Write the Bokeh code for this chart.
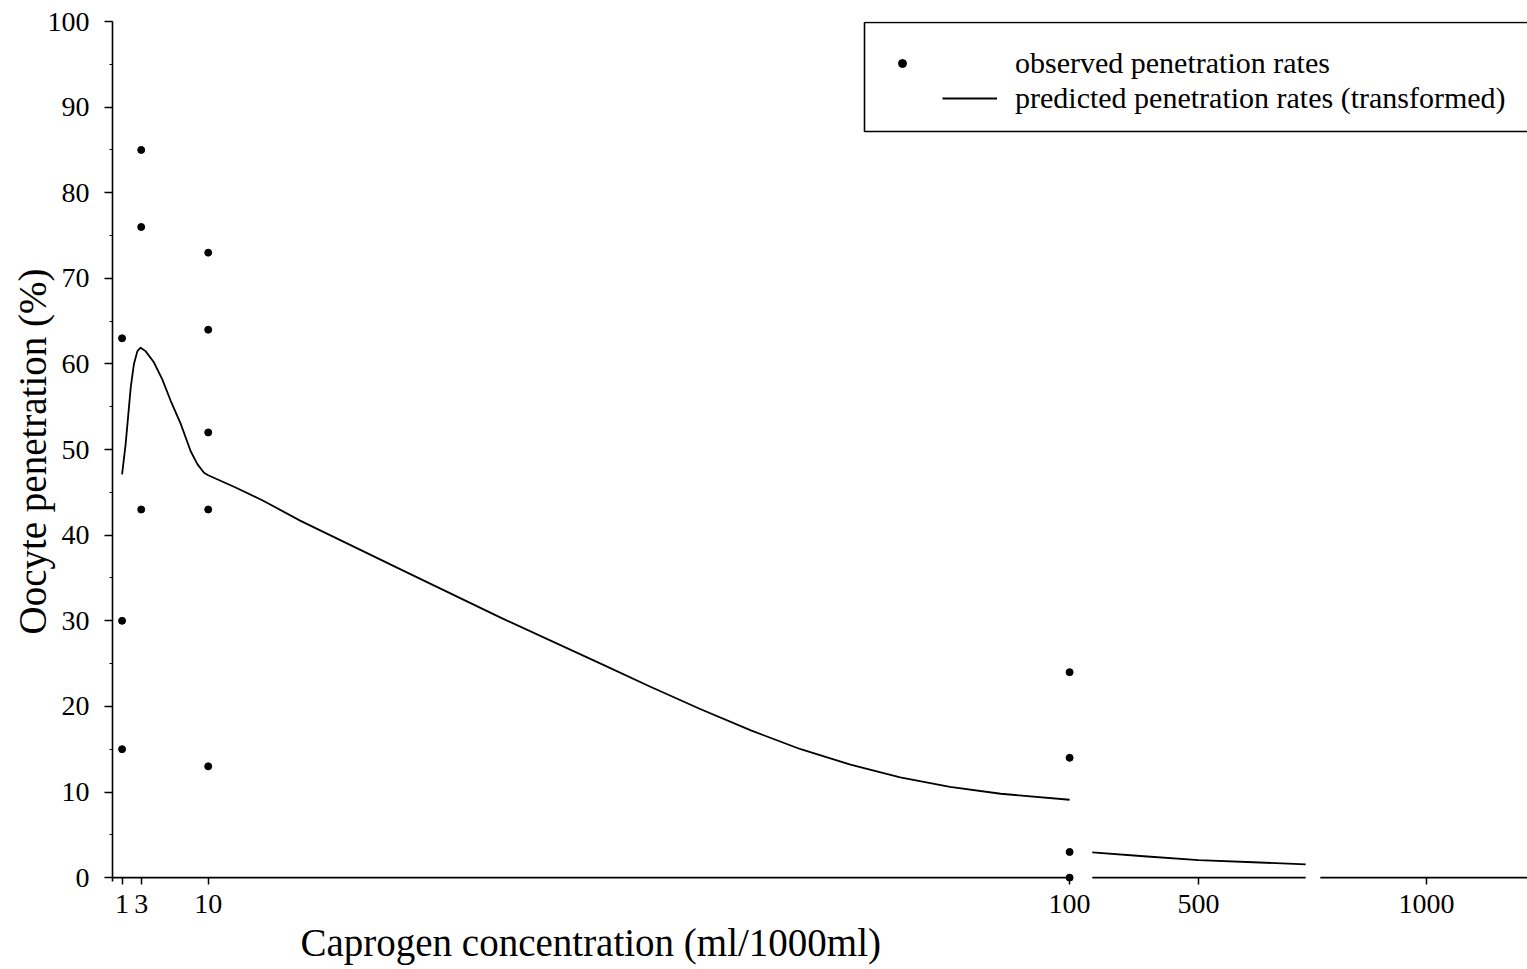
import numpy as np
from bokeh.plotting import figure
from bokeh.models import (Range1d, FixedTicker, SingleIntervalTicker, Title,
                          Legend, LegendItem, BoxAnnotation)
from bokeh.embed import file_html
from bokeh.resources import INLINE

# ---------------- data ----------------
obs_conc = [1, 1, 1, 3, 3, 3, 10, 10, 10, 10, 10, 100, 100, 100, 100]
obs_rate = [63, 30, 15, 85, 76, 43, 73, 64, 52, 43, 13, 24, 14, 3, 0]

pred_conc_low = [1.0, 1.37, 1.9, 2.24, 2.6, 2.94, 3.45, 4.32, 5.2, 6.08, 7.13,
                 8.17, 8.87, 9.56, 10.0, 12.8, 15.8, 19.6, 30.1, 40.5, 51.0,
                 56.2, 61.4, 66.7, 71.9, 77.1, 82.3, 87.5, 92.8, 100.0]
pred_rate_low = [47.1, 50.6, 57.2, 60.0, 61.5, 61.9, 61.5, 60.2, 58.2, 55.7, 53.0,
                 49.8, 48.3, 47.3, 47.0, 45.6, 44.0, 41.7, 36.0, 30.4, 25.0,
                 22.3, 19.7, 17.2, 15.0, 13.2, 11.7, 10.6, 9.8, 9.1]

pred_conc_high = [267, 380, 500, 620, 735]
pred_rate_high = [2.95, 2.5, 2.05, 1.8, 1.55]

tick_conc = [1, 3, 10, 100, 500, 1000]
tick_labels = ["1", "3", "10", "100", "500", "1000"]

# broken axis: visible baseline pieces (in concentration units)
axis_pieces = [(0, 100), (267, 735), (767, 1230)]

# ---------------- broken-scale mapping ----------------
HIGH_OFFSET = 89.65
HIGH_SLOPE = 0.04764


def axis_pos(c):
    c = np.asarray(c, dtype=float)
    return np.where(c <= 100, c, HIGH_OFFSET + HIGH_SLOPE * c)


FONT = "Liberation Serif"

p = figure(frame_width=1415, frame_height=860,
           min_border_left=112, min_border_right=0,
           min_border_top=21, min_border_bottom=86,
           x_range=Range1d(0, 147.84), y_range=Range1d(-0.45, 100),
           output_backend="svg", toolbar_location=None)
p.outline_line_color = None
p.grid.visible = False
p.background_fill_color = "white"
p.border_fill_color = "white"

# y axis
ya = p.yaxis[0]
ya.ticker = SingleIntervalTicker(interval=10, num_minor_ticks=2)
ya.major_tick_in = 0
ya.major_tick_out = 8
ya.minor_tick_in = 0
ya.minor_tick_out = 3
ya.axis_line_width = 1.6
ya.major_tick_line_width = 1.5
ya.minor_tick_line_width = 1.2
ya.axis_line_color = "black"
ya.major_tick_line_color = "black"
ya.minor_tick_line_color = "black"
ya.major_label_text_font = FONT
ya.major_label_text_font_size = "28px"
ya.major_label_text_color = "black"
ya.major_label_standoff = 15
ya.axis_label = "Oocyte penetration (%)"
ya.axis_label_text_font = FONT
ya.axis_label_text_font_size = "39px"
ya.axis_label_text_font_style = "normal"
ya.axis_label_text_color = "black"
ya.axis_label_standoff = -9

# x axis
xa = p.xaxis[0]
tick_pos = [round(float(v), 4) for v in axis_pos(tick_conc)]
xa.ticker = FixedTicker(ticks=tick_pos, minor_ticks=[])
xa.major_label_overrides = {pos: lab for pos, lab in zip(tick_pos, tick_labels)}
xa.axis_line_color = None
xa.major_tick_in = 4
xa.major_tick_out = 3
xa.major_tick_line_width = 1.5
xa.major_tick_line_color = "black"
xa.minor_tick_line_color = None
xa.major_label_text_font = FONT
xa.major_label_text_font_size = "28px"
xa.major_label_text_color = "black"
xa.major_label_standoff = 10

# x axis title, left-shifted as in the original
p.add_layout(Title(text="Caprogen concentration (ml/1000ml)", align="left",
                   offset=188, standoff=10, vertical_align="top",
                   text_font=FONT, text_font_size="39px",
                   text_font_style="normal", text_color="black"), "below")

# baseline pieces of the broken x axis
p.segment(x0=[float(axis_pos(a)) for a, b in axis_pieces], y0=[0] * len(axis_pieces),
          x1=[float(axis_pos(b)) for a, b in axis_pieces], y1=[0] * len(axis_pieces),
          line_color="black", line_width=1.8)

# predicted curve
r_line = p.line(axis_pos(pred_conc_low), pred_rate_low, line_color="black",
                line_width=1.8, line_join="round")
p.line(axis_pos(pred_conc_high), pred_rate_high, line_color="black",
       line_width=1.8, line_join="round")

# observed points
r_pts = p.scatter(axis_pos(obs_conc), obs_rate, size=7, marker="circle",
                  fill_color="black", line_color="black")

# legend frame
p.add_layout(BoxAnnotation(left=752, right=1440, top=859, bottom=750,
                           left_units="screen", right_units="screen",
                           top_units="screen", bottom_units="screen",
                           fill_alpha=0, line_color="black", line_alpha=1,
                           line_width=1.6))

leg_a = Legend(items=[LegendItem(label="observed penetration rates", renderers=[r_pts])],
               location=(780, 801), glyph_width=20, glyph_height=20,
               label_standoff=103, padding=0, margin=0, spacing=0,
               border_line_alpha=0, background_fill_alpha=0,
               label_text_font=FONT, label_text_font_size="30px",
               label_text_color="black")
leg_b = Legend(items=[LegendItem(label="predicted penetration rates (transformed)",
                                 renderers=[r_line])],
               location=(830, 766), glyph_width=55, glyph_height=20,
               label_standoff=18, padding=0, margin=0, spacing=0,
               border_line_alpha=0, background_fill_alpha=0,
               label_text_font=FONT, label_text_font_size="30px",
               label_text_color="black")
p.add_layout(leg_a)
p.add_layout(leg_b)

open("out.html", "w").write(file_html(p, INLINE))
